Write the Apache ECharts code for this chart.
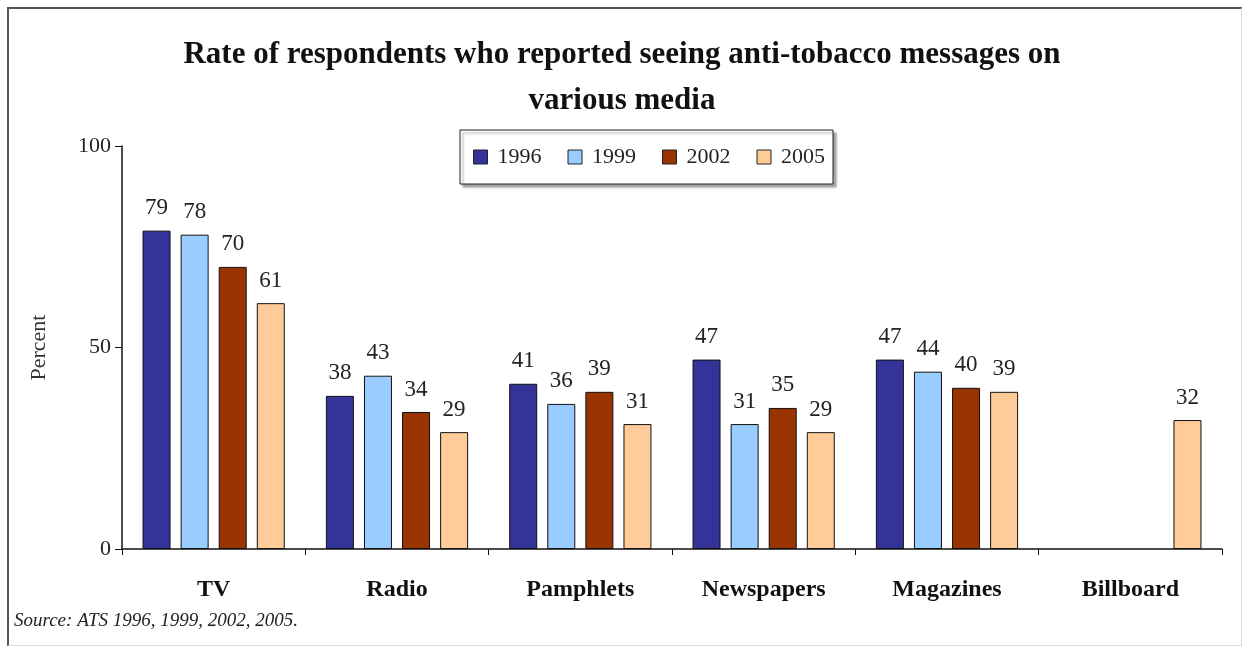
<!DOCTYPE html>
<html>
<head>
<meta charset="utf-8">
<script src="https://cdn.jsdelivr.net/npm/echarts@6/dist/echarts.min.js"></script>
<style>
  html, body { margin: 0; padding: 0; background: #fff; }
  #wrap { position: relative; width: 1244px; height: 649px; overflow: hidden; }
  #frame { position: absolute; left: 7px; top: 7px; width: 1232px; height: 636px;
           border-left: 2px solid #555; border-top: 2px solid #555;
           border-right: 1px solid #ddd; border-bottom: 1px solid #ddd; pointer-events: none; }
  #chart { position: absolute; left: 0; top: 0; width: 1244px; height: 649px; }
</style>
</head>
<body>
<div id="wrap">
  <div id="chart"></div>
  <div id="frame"></div>
</div>
<script>
const categories = ['TV', 'Radio', 'Pamphlets', 'Newspapers', 'Magazines', 'Billboard'];
const seriesNames = ['1996', '1999', '2002', '2005'];
const values1996 = [79, 38, 41, 47, 47, null];
const values1999 = [78, 43, 36, 31, 44, null];
const values2002 = [70, 34, 39, 35, 40, null];
const values2005 = [61, 29, 31, 29, 39, 32];
const yTicks = [0, 50, 100];

const colors = ['#333399', '#99CCFF', '#993300', '#FFCC99'];
const allValues = [values1996, values1999, values2002, values2005];
const serif = '"Liberation Serif", "Times New Roman", serif';

const chart = echarts.init(document.getElementById('chart'));
chart.setOption({
  animation: false,
  backgroundColor: '#fff',
  title: {
    text: 'Rate of respondents who reported seeing anti-tobacco messages on\nvarious media',
    left: 'center',
    top: 27,
    textStyle: { fontFamily: serif, fontWeight: 'bold', fontSize: 31, lineHeight: 46, color: '#111' }
  },
  legend: {
    data: seriesNames,
    left: 460,
    top: 130,
    padding: [16, 8, 16, 13],
    itemWidth: 14,
    itemHeight: 14,
    itemGap: 26,
    icon: 'rect',
    borderColor: '#222',
    borderWidth: 1,
    backgroundColor: '#fff',
    shadowColor: 'rgba(0,0,0,0.35)',
    shadowOffsetX: 3,
    shadowOffsetY: 3,
    shadowBlur: 2,
    itemStyle: { borderColor: '#222', borderWidth: 1 },
    textStyle: { fontFamily: serif, fontSize: 22, color: '#222', padding: [0, 0, 0, 5] }
  },
  grid: { left: 122, right: 22, top: 146, bottom: 100, containLabel: false },
  xAxis: {
    type: 'category',
    data: categories,
    axisLine: { lineStyle: { color: '#111', width: 1.5 } },
    axisTick: { show: true, length: 6, lineStyle: { color: '#111' } },
    axisLabel: { fontFamily: serif, fontWeight: 'bold', fontSize: 24, color: '#111', margin: 29 }
  },
  yAxis: {
    type: 'value',
    min: yTicks[0],
    max: yTicks[yTicks.length - 1],
    interval: 50,
    name: 'Percent',
    nameLocation: 'middle',
    nameRotate: 90,
    nameGap: 72,
    nameTextStyle: { fontFamily: serif, fontSize: 22, color: '#333' },
    axisLine: { show: true, lineStyle: { color: '#111', width: 1.5 } },
    axisTick: { show: true, length: 7, lineStyle: { color: '#111' } },
    axisLabel: { fontFamily: serif, fontSize: 22, color: '#222', margin: 11 },
    splitLine: { show: false }
  },
  series: seriesNames.map((name, i) => ({
    name: name,
    type: 'bar',
    data: allValues[i],
    barWidth: 28,
    barGap: '36%',
    itemStyle: { color: colors[i], borderColor: '#111', borderWidth: 1 },
    label: {
      show: true,
      position: 'top',
      distance: 11,
      fontFamily: serif,
      fontSize: 23,
      color: '#222'
    }
  })),
  graphic: [{
    type: 'text',
    left: 14,
    top: 611,
    style: { text: 'Source: ATS 1996, 1999, 2002, 2005.', font: 'italic 19px ' + serif, fill: '#222' }
  }]
});
</script>
</body>
</html>
